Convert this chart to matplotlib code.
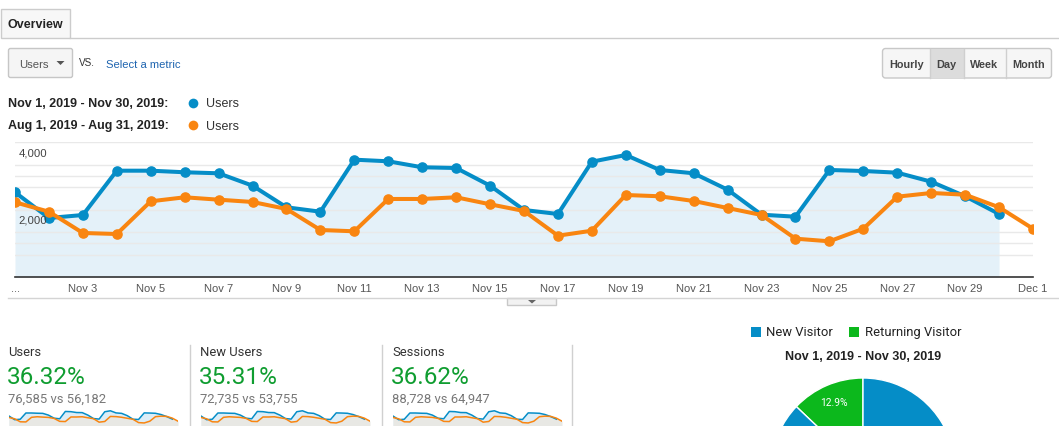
import matplotlib
matplotlib.use("Agg")
import matplotlib.pyplot as plt
from matplotlib.patches import Rectangle, FancyBboxPatch, Polygon

W, H = 1059, 427

# ---------------- data ----------------
users_nov = [2516, 1752, 1841, 3157, 3157, 3110, 3080, 2712, 2070, 1939,
             3484, 3436, 3258, 3237, 2712, 1990, 1871, 3424, 3623, 3178,
             3080, 2593, 1850, 1791, 3178, 3148, 3098, 2830, 2397, 1871]
users_aug = [2219, 1939, 1307, 1277, 2248, 2367, 2296, 2228, 2020, 1396,
             1357, 2317, 2317, 2367, 2159, 1960, 1227, 1375, 2435, 2397,
             2257, 2049, 1841, 1138, 1060, 1434, 2385, 2495, 2444, 2070, 1434]
x_tick_labels = ["...", "Nov 3", "Nov 5", "Nov 7", "Nov 9", "Nov 11", "Nov 13",
                 "Nov 15", "Nov 17", "Nov 19", "Nov 21", "Nov 23", "Nov 25",
                 "Nov 27", "Nov 29", "Dec 1"]
y_tick_vals = [4000, 2000]
y_tick_labels = ["4,000", "2,000"]
grid_vals = [667, 1000, 1333, 2000, 2667, 3000, 3333, 4000]
range_labels = ["Nov 1, 2019 - Nov 30, 2019:", "Aug 1, 2019 - Aug 31, 2019:"]
metric_names = ["Users", "New Users", "Sessions"]
metric_changes = ["36.32%", "35.31%", "36.62%"]
metric_compare = ["76,585 vs 56,182", "72,735 vs 53,755", "88,728 vs 64,947"]
visitor_types = ["Returning Visitor", "New Visitor"]
visitor_share = [12.9, 87.1]
period_buttons = ["Hourly", "Day", "Week", "Month"]

BLUE = "#058dc7"
ORANGE = "#f98510"
GREEN_PIE = "#0cb81c"
GREEN_TXT = "#0f9d30"
UI = "Liberation Sans"
RB = "Roboto"

fig = plt.figure(figsize=(W / 100, H / 100), dpi=100)
fig.patch.set_facecolor("white")

# overlay axes in pixel coordinates
bg = fig.add_axes([0, 0, 1, 1], zorder=0)
bg.set_xlim(0, W)
bg.set_ylim(H, 0)
bg.axis("off")

# tab
bg.add_patch(Rectangle((0.5, 10), 69, 28.5, facecolor="#f7f7f7", edgecolor="#cccccc", lw=1))
bg.plot([69.5, W], [38.5, 38.5], color="#cccccc", lw=1)
bg.text(8, 24.5, "Overview", fontsize=9, fontweight="bold", color="#222222",
        va="center", family=UI)

# dropdown
bg.add_patch(FancyBboxPatch((8.5, 49.5), 64, 29, boxstyle="round,pad=0,rounding_size=2",
                            facecolor="#f5f5f5", edgecolor="#c6c6c6", lw=1))
bg.text(19, 64.5, "Users", fontsize=8.2, color="#555555", va="center", family=UI)
bg.add_patch(Polygon([(56.5, 62), (64.5, 62), (60.5, 66)], closed=True,
                     facecolor="#555555", edgecolor="none"))
bg.text(79, 63, "VS.", fontsize=7.2, color="#333333", va="center", family=UI)
bg.text(106, 64.5, "Select a metric", fontsize=8.1, color="#1f65b0", va="center", family=UI)

# legend rows
for i, (lab, col) in enumerate(zip(range_labels, [BLUE, ORANGE])):
    y = 104 + 22.5 * i
    bg.text(8, y, lab, fontsize=9, fontweight="bold", color="#222222", va="center", family=UI)
    bg.plot([193], [y - 0.5], marker="o", ms=7, color=col, mec="none")
    bg.text(206, y, "Users", fontsize=9, color="#333333", va="center", family=UI)

# period buttons
bg.add_patch(FancyBboxPatch((882.5, 49.5), 169, 29.5, boxstyle="round,pad=0,rounding_size=3",
                            facecolor="#f6f6f6", edgecolor="#c8c8c8", lw=1))
bg.add_patch(Rectangle((929.5, 50), 34, 28.5, facecolor="#dcdcdc", edgecolor="none"))
for xd in [929.5, 963.5, 1005.5]:
    bg.plot([xd, xd], [50, 78.5], color="#cfcfcf", lw=1)
for lab, xc in zip(period_buttons, [906, 946.5, 984.5, 1028.5]):
    bg.text(xc, 64.5, lab, fontsize=7.8, fontweight="bold", color="#444444",
            ha="center", va="center", family=UI)

# collapse bar under the chart
bg.plot([8, W], [298.5, 298.5], color="#d4d4d4", lw=1)
bg.add_patch(Rectangle((506.5, 298.5), 49, 7.5, facecolor="#f2f2f2", edgecolor="#c8c8c8", lw=1))
bg.add_patch(Polygon([(528, 301), (536, 301), (532, 304.5)], closed=True,
                     facecolor="#666666", edgecolor="none"))

# ---------------- main chart ----------------
ax = fig.add_axes([15 / W, (H - 278) / H, 1018 / W, (278 - 143.3) / H], zorder=2)
ax.set_facecolor("none")
xb = list(range(len(users_nov)))
xo = list(range(len(users_aug)))
ax.fill_between(xb, users_nov, 0, color="#e4f1f9", lw=0, zorder=1)
ax.plot(xb, users_nov, color=BLUE, lw=2.9, marker="o", ms=6.6, zorder=3,
        solid_joinstyle="round")
ax.plot(xo, users_aug, color=ORANGE, lw=2.9, marker="o", ms=6.6, zorder=4,
        solid_joinstyle="round")
ax.set_xlim(0, 30)
ax.set_ylim(0, 4000)
ax.set_yticks(grid_vals)
ax.set_yticklabels([])
ax.tick_params(axis="y", length=0)
ax.grid(axis="y", color="#e9e9e9", lw=1, zorder=0)
ax.set_xticks(list(range(0, 31, 2)))
ax.set_xticklabels(x_tick_labels, fontsize=8, color="#555555", family=UI)
ax.tick_params(axis="x", length=0, pad=4)
for s in ["top", "right", "left"]:
    ax.spines[s].set_visible(False)
ax.spines["bottom"].set_color("#333333")
ax.spines["bottom"].set_linewidth(1.2)
for v, lab in zip(y_tick_vals, y_tick_labels):
    ax.annotate(lab, xy=(0, v), xycoords=("axes fraction", "data"),
                xytext=(2.3, -7.2), textcoords="offset points",
                fontsize=8.2, color="#444444", va="center", ha="left", family=UI, zorder=5)

# ---------------- metric tiles ----------------
tile_x = [8, 200, 392]
for i, x0 in enumerate(tile_x):
    bg.text(x0, 353, metric_names[i], fontsize=9.4, color="#333333", va="center", family=RB)
    bg.text(x0 - 1, 378, metric_changes[i], fontsize=17.5, color=GREEN_TXT, va="center", family=RB)
    bg.text(x0, 399.5, metric_compare[i], fontsize=9.4, color="#777777", va="center", family=RB)
    sp = fig.add_axes([(x0 + 1) / W, (H - 429) / H, 169 / W, 19 / H], zorder=2)
    sp.set_facecolor("none")
    sp.fill_between(xb, users_nov, 0, color="#dcedf7", lw=0)
    sp.fill_between(xo, users_aug, 0, color="#e8e8e4", lw=0)
    sp.plot(xb, users_nov, color=BLUE, lw=1.1)
    sp.plot(xo, users_aug, color=ORANGE, lw=1.1)
    sp.set_xlim(0, 30)
    sp.set_ylim(0, 4000)
    sp.axis("off")

for xs in [189.5, 381.5, 571.5]:
    bg.plot([xs, xs], [346, H], color="#d0d0d0", lw=1)

# ---------------- pie ----------------
bg.add_patch(Rectangle((751, 328), 10, 10, facecolor=BLUE, edgecolor="none"))
bg.text(766, 333, visitor_types[1], fontsize=9.4, color="#222222", va="center", family=RB)
bg.add_patch(Rectangle((849, 328), 10, 10, facecolor=GREEN_PIE, edgecolor="none"))
bg.text(865, 333, visitor_types[0], fontsize=9.4, color="#222222", va="center", family=RB)
bg.text(863, 357.5, "Nov 1, 2019 - Nov 30, 2019", fontsize=9, fontweight="bold",
        color="#222222", ha="center", va="center", family=UI)

R = 92
pa = fig.add_axes([(863 - R) / W, (H - 471 - R) / H, 2 * R / W, 2 * R / H], zorder=2)
wedges, texts, autotexts = pa.pie(visitor_share, colors=[GREEN_PIE, BLUE], startangle=90,
                                  counterclock=True,
                                  autopct=lambda p: f"{p:.1f}%" if p < 50 else "",
                                  pctdistance=0.8,
                                  wedgeprops=dict(edgecolor="white", linewidth=1),
                                  textprops=dict(color="white", fontsize=7.4, family=RB))
pa.set_xlim(-1, 1)
pa.set_ylim(-1, 1)
pa.set_aspect("equal")

fig.savefig("out.png", dpi=100)
